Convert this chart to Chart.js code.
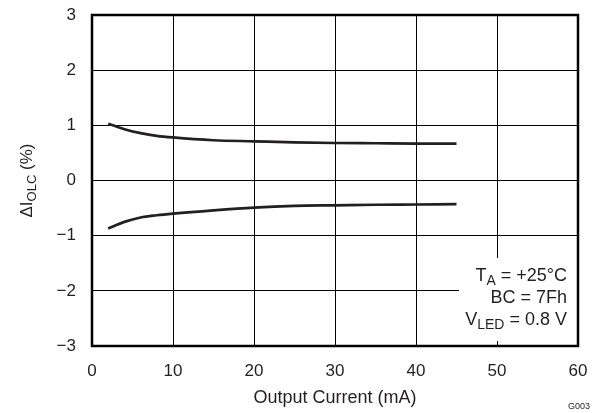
<!DOCTYPE html>
<html>
<head>
<meta charset="utf-8">
<script src="https://cdn.jsdelivr.net/npm/chart.js@4.4.0/dist/chart.umd.min.js"></script>
<style>
	html, body { margin: 0; padding: 0; background: #fff; }
	#wrap { width: 598px; height: 413px; }
</style>
</head>
<body>
<div id="wrap"><canvas id="chart" width="598" height="413"></canvas></div>
<script>
// output current (mA)
let currentValues = [2, 4, 6, 8, 10, 15, 20, 25, 30, 35, 40, 45];
// delta I_OLC (%), upper and lower limit curves
let upperValues = [1.03, 0.93, 0.86, 0.81, 0.78, 0.73, 0.71, 0.69, 0.68, 0.675, 0.67, 0.67];
let lowerValues = [-0.87, -0.75, -0.67, -0.63, -0.60, -0.54, -0.49, -0.46, -0.45, -0.44, -0.435, -0.43];

let xTicks = [0, 10, 20, 30, 40, 50, 60];
let yTicks = [-3, -2, -1, 0, 1, 2, 3];

const FONT = '"Liberation Sans", Arial, sans-serif';
const INK = '#231f20';

function toPoints(xs, ys) {
	return xs.map((x, i) => ({ x: x, y: ys[i] }));
}

// text with subscripts: parts = [[text, isSub], ...]
function drawRich(ctx, parts, x, y, align, size) {
	let subSize = Math.round(size * 0.75);
	let total = 0;
	parts.forEach(p => {
		ctx.font = (p[1] ? subSize : size) + 'px ' + FONT;
		total += ctx.measureText(p[0]).width;
	});
	let cx = align === 'right' ? x - total : (align === 'center' ? x - total / 2 : x);
	ctx.textAlign = 'left';
	ctx.textBaseline = 'alphabetic';
	parts.forEach(p => {
		ctx.font = (p[1] ? subSize : size) + 'px ' + FONT;
		ctx.fillText(p[0], cx, p[1] ? y + 4 : y);
		cx += ctx.measureText(p[0]).width;
	});
}

const extras = {
	id: 'extras',
	beforeDatasetsDraw(chart) {
		let ctx = chart.ctx;
		let a = chart.chartArea;
		// white box behind the conditions note
		ctx.save();
		ctx.fillStyle = '#fff';
		ctx.fillRect(459, 258, a.right - 459, 83);
		ctx.restore();
	},
	afterDraw(chart) {
		let ctx = chart.ctx;
		let a = chart.chartArea;
		ctx.save();
		ctx.strokeStyle = '#000';
		ctx.lineWidth = 2.5;
		ctx.strokeRect(a.left, a.top, a.right - a.left, a.bottom - a.top);

		ctx.fillStyle = INK;
		drawRich(ctx, [['T', false], ['A', true], [' = +25\u00b0C', false]], 567, 281, 'right', 18);
		drawRich(ctx, [['BC = 7Fh', false]], 567, 303, 'right', 18);
		drawRich(ctx, [['V', false], ['LED', true], [' = 0.8 V', false]], 567, 325, 'right', 18);

		// axis titles
		drawRich(ctx, [['Output Current (mA)', false]], (a.left + a.right) / 2, 403, 'center', 18);
		ctx.save();
		ctx.translate(32, (a.top + a.bottom) / 2);
		ctx.rotate(-Math.PI / 2);
		drawRich(ctx, [['\u0394I', false], ['OLC', true], [' (%)', false]], 0, 0, 'center', 17);
		ctx.restore();

		ctx.font = '9px ' + FONT;
		ctx.textAlign = 'right';
		ctx.fillText('G003', 590, 409);
		ctx.restore();
	}
};

document.addEventListener('DOMContentLoaded', () => {
	let context = document.getElementById('chart').getContext('2d');

	let lineStyle = {
		borderColor: INK,
		borderWidth: 2.7,
		pointRadius: 0,
		fill: false,
		cubicInterpolationMode: 'monotone'
	};

	let xScaleConfig = {
		type: 'linear',
		min: 0,
		max: 60,
		afterBuildTicks: (s) => { s.ticks = xTicks.map(v => ({ value: v })); },
		afterFit: (s) => { s.height = 67; s.paddingLeft = 0; s.paddingRight = 0; },
		grid: { color: '#000', lineWidth: 1, drawTicks: false },
		border: { display: false },
		ticks: { color: INK, font: { family: FONT, size: 17 }, padding: 15, maxRotation: 0 }
	};

	let yScaleConfig = {
		type: 'linear',
		min: -3,
		max: 3,
		afterBuildTicks: (s) => { s.ticks = yTicks.map(v => ({ value: v })); },
		afterFit: (s) => { s.width = 92; s.paddingTop = 0; s.paddingBottom = 0; },
		grid: { color: '#000', lineWidth: 1, drawTicks: false },
		border: { display: false },
		ticks: {
			color: INK,
			font: { family: FONT, size: 17 },
			padding: 16,
			callback: (v) => String(v).replace('-', '\u2212')
		}
	};

	let config = {
		type: 'line',
		data: {
			datasets: [
				Object.assign({ label: 'Upper', data: toPoints(currentValues, upperValues) }, lineStyle),
				Object.assign({ label: 'Lower', data: toPoints(currentValues, lowerValues) }, lineStyle)
			]
		},
		options: {
			responsive: false,
			animation: false,
			layout: { padding: { left: 0, right: 20, top: 15, bottom: 0 } },
			plugins: { legend: { display: false }, tooltip: { enabled: false } },
			scales: { x: xScaleConfig, y: yScaleConfig }
		},
		plugins: [extras]
	};

	new Chart(context, config);
});
</script>
</body>
</html>
